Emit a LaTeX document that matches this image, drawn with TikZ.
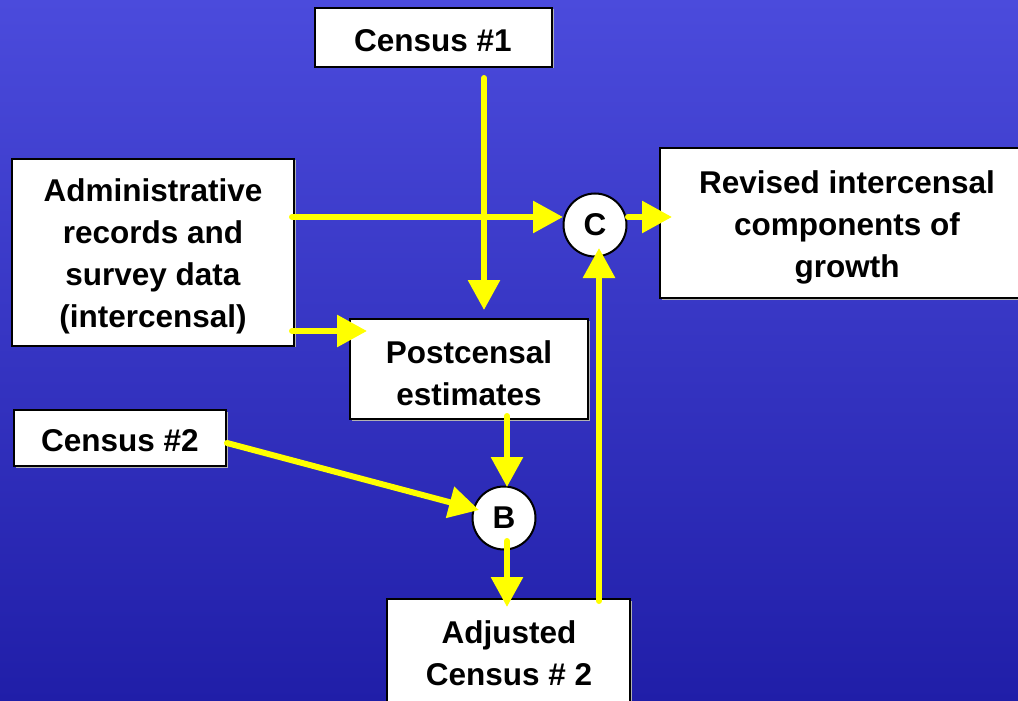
\documentclass[tikz,border=0pt]{standalone}
\usepackage{fontspec}
\setmainfont{Liberation Sans}
\usetikzlibrary{arrows.meta,shadows}
\definecolor{bgtop}{RGB}{75,75,220}
\definecolor{bgbot}{RGB}{32,30,168}
\definecolor{arrowyellow}{RGB}{255,255,0}
\tikzset{
  box/.style={draw=black, line width=2pt, fill=white, rectangle, inner sep=0pt,
    drop shadow={shadow xshift=1.5pt, shadow yshift=-1.5pt, fill=gray!60, opacity=1}},
  txt/.style={inner sep=0pt, align=center, font=\bfseries\fontsize{31.5}{42}\selectfont},
  junction/.style={draw=black, line width=2pt, fill=white, circle, inner sep=0pt,
    minimum size=63pt, font=\bfseries\fontsize{31.5}{38}\selectfont},
  arr/.style={draw=arrowyellow, line width=6pt, line cap=round,
    -{Triangle[length=30pt,width=31pt]}}
}
\begin{document}
\begin{tikzpicture}[x=1pt,y=-1pt]
\useasboundingbox (0,0) rectangle (1018,701);
\clip (0,0) rectangle (1018,701);
\shade[top color=bgtop, bottom color=bgbot] (0,0) rectangle (1018,701);

% boxes
\node[box, minimum width=237pt, minimum height=59pt] (census1) at (433.5,37.5) {};
\node[box, minimum width=282pt, minimum height=187pt] (admin) at (153,252) {};
\node[box, minimum width=372pt, minimum height=150pt] (revised) at (846,223) {};
\node[box, minimum width=238pt, minimum height=100pt] (post) at (469,369) {};
\node[box, minimum width=212pt, minimum height=56pt] (census2) at (120,438) {};
\node[box, minimum width=243pt, minimum height=108pt] (adj) at (508.5,653) {};

% texts
\node[txt] (census1T) at (433,40.5) {Census \#1};
\node[txt] (adminT) at (153,256) {Administrative\\records and\\survey data\\(intercensal)};
\node[txt] (revisedT) at (847,227) {Revised intercensal\\components of\\growth};
\node[txt] (postT) at (469,373) {Postcensal\\estimates};
\node[txt] (census2T) at (120,441) {Census \#2};
\node[txt] (adjT) at (509,653) {Adjusted\\Census \# 2};

% junctions
\node[junction] (C) at (595,225) {C};
\node[junction] (B) at (504,518) {B};

% connector end points
\coordinate (c1out) at (484,78);
\coordinate (c1in)  at (484,310);
\coordinate (adOutC) at (292,217);
\coordinate (cIn)    at (563,217);
\coordinate (adOutP) at (292,331);
\coordinate (pIn)    at (367,331);
\coordinate (cOut)   at (628,217);
\coordinate (rIn)    at (672,217);
\coordinate (pOut)   at (507,416);
\coordinate (bInTop) at (507,487);
\coordinate (c2Out)  at (227,443);
\coordinate (bInLeft) at (479,510);
\coordinate (bOut)   at (507,541);
\coordinate (adjIn)  at (507,607);
\coordinate (adjOut) at (599,601);
\coordinate (cInBot) at (599,248);

% connectors
\draw[arr] (c1out) -- (c1in);
\draw[arr] (adOutC) -- (cIn);
\draw[arr] (adOutP) -- (pIn);
\draw[arr] (cOut) -- (rIn);
\draw[arr] (pOut) -- (bInTop);
\draw[arr] (c2Out) -- (bInLeft);
\draw[arr] (bOut) -- (adjIn);
\draw[arr] (adjOut) -- (cInBot);
\end{tikzpicture}
\end{document}
